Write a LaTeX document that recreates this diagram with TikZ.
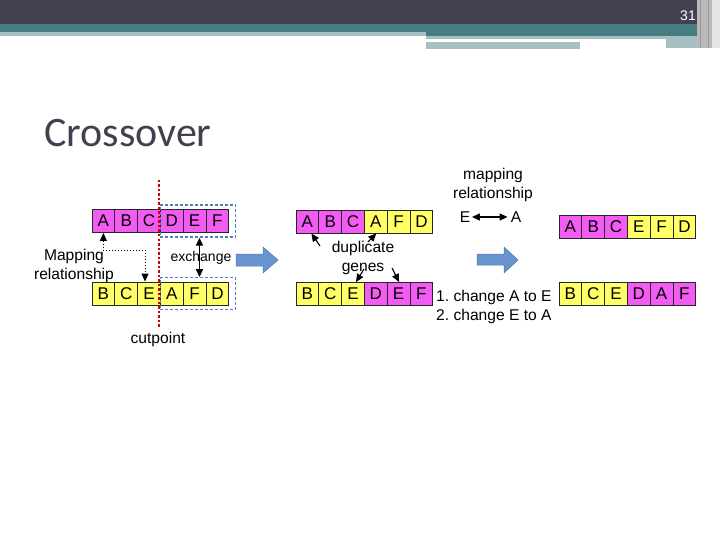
\documentclass[tikz,border=0pt]{standalone}
\usepackage{fontspec}
\setmainfont{Liberation Sans}
\newfontfamily\titlefont{Carlito}
\usetikzlibrary{arrows.meta}

\definecolor{pk}{RGB}{242,92,242}
\definecolor{yl}{RGB}{255,255,102}
\definecolor{hdark}{RGB}{65,65,82}
\definecolor{hteal}{RGB}{70,126,130}
\definecolor{hlight}{RGB}{166,192,194}
\definecolor{dashblue}{RGB}{84,122,190}
\definecolor{arrowblue}{RGB}{104,148,208}
\definecolor{titlegray}{RGB}{64,64,80}

\begin{document}
\frenchspacing
\begin{tikzpicture}[x=1pt,y=-1pt,
  gene/.style={draw=black!85, line width=0.9pt, minimum width=22.8pt,
    minimum height=23pt, inner sep=0pt, font=\fontsize{17}{19}\selectfont},
  lbl/.style={font=\fontsize{15.6}{19}\selectfont, inner sep=0pt, align=center},
  ptr/.style={-{Triangle[length=8pt,width=7pt]}, line width=1.1pt},
  twoway/.style={{Triangle[length=8pt,width=7pt]}-{Triangle[length=8pt,width=7pt]}, line width=1.2pt},
  dashbox/.style={draw=dashblue, line width=1.3pt, dash pattern=on 3pt off 2pt},
  cutline/.style={draw=red!80!black, line width=1.3pt, dash pattern=on 2.5pt off 2pt},
  bigarrow/.style={fill=arrowblue, draw=arrowblue!80!black, line width=0.5pt}]
  \useasboundingbox (0,0) rectangle (720,540);

  % header bands
  \fill[hdark] (0,0) rectangle (720,24);
  \fill[hteal] (0,24) rectangle (697,32);
  \fill[hlight] (0,32) rectangle (426,36);
  \fill[hteal] (426,32) rectangle (697,36);
  \fill[hlight] (426,36) rectangle (697,39);
  \fill[hlight] (426,42) rectangle (580,49);
  \fill[hlight] (666,39) rectangle (697,48);
  \fill[gray!55] (697,0) rectangle (712,48);
  \fill[gray!20] (712,0) rectangle (720,48);
  \draw[gray!80, line width=1pt] (700,0) -- (700,48) (708,0) -- (708,48);
  \node[text=white, font=\fontsize{14}{16}\selectfont] (pagenum) at (688,16) {31};

  % title
  \node[anchor=base west, inner sep=0pt, text=titlegray,
    font=\titlefont\fontsize{42}{46}\selectfont] (title) at (44,147) {Crossover};

  % left: parents and cutpoint
  \foreach \i/\g in {0/A,1/B,2/C,3/D,4/E,5/F}
    \node[gene, fill=pk] (lt\i) at (103.4+22.8*\i,221) {\g};
  \foreach \i/\g in {0/B,1/C,2/E,3/A,4/F,5/D}
    \node[gene, fill=yl] (lb\i) at (103.4+22.8*\i,293.5) {\g};
  \node[dashbox, minimum width=75.5pt, minimum height=32pt] (xa) at (198,221) {};
  \node[dashbox, minimum width=75.5pt, minimum height=31.5pt] (xb) at (198,293.5) {};
  \coordinate (cuttop) at (159,180);
  \coordinate (cutbot) at (159,328);
  \draw[cutline] (cuttop) -- (cutbot);
  \node[lbl] (cut) at (158,339) {cutpoint};
  \node[lbl] (maplbl) at (74,266) {Mapping\\relationship};
  \node[lbl, font=\fontsize{14}{16}\selectfont] (exch) at (201,258) {exchange};
  \draw[twoway] ([xshift=1.5]xa.south) -- ([xshift=1.5]xb.north);
  \draw[twoway, line width=0.9pt, dash pattern=on 1.2pt off 1.8pt]
    (lt0.south) -- ++(0,17) -| ([xshift=-4]lb2.north);

  \fill[bigarrow] (236,254) -- (263,254) -- (263,247) -- (278,260)
    -- (263,273) -- (263,266) -- (236,266) -- cycle;

  % middle: children with duplicates
  \foreach \i/\g/\c in {0/A/pk,1/B/pk,2/C/pk,3/A/yl,4/F/yl,5/D/yl}
    \node[gene, fill=\c] (mt\i) at (307.4+22.8*\i,221.5) {\g};
  \foreach \i/\g/\c in {0/B/yl,1/C/yl,2/E/yl,3/D/pk,4/E/pk,5/F/pk}
    \node[gene, fill=\c] (mb\i) at (307.4+22.8*\i,294) {\g};
  \node[lbl] (dup) at (363,257.5) {duplicate\\genes};
  \coordinate (d1) at (320,246);
  \coordinate (d2) at (368,242);
  \coordinate (d3) at (364,269);
  \coordinate (d4) at (392,268);
  \draw[ptr] (d1) -- ([xshift=4]mt0.south);
  \draw[ptr] (d2) -- ([xshift=0.5]mt3.south);
  \draw[ptr] (d3) -- ([xshift=3]mb2.north);
  \draw[ptr] (d4) -- ([xshift=0.5]mb4.north);

  \node[lbl] (maprel) at (493,184.5) {mapping\\relationship};
  \node[lbl] (me) at (465,217) {E};
  \node[lbl] (ma) at (516,217) {A};
  \draw[twoway] ([xshift=1.5]me.east) -- ([xshift=-3]ma.west);
  \node[lbl, align=left, anchor=west] (steps) at (436,306.5)
    {1. change A to E\\2. change E to A};

  \fill[bigarrow] (477,254) -- (504,254) -- (504,247) -- (518,260)
    -- (504,273) -- (504,265) -- (477,265) -- cycle;

  % right: offspring
  \foreach \i/\g/\c in {0/A/pk,1/B/pk,2/C/pk,3/E/yl,4/F/yl,5/D/yl}
    \node[gene, fill=\c] (rt\i) at (570.4+22.8*\i,226.5) {\g};
  \foreach \i/\g/\c in {0/B/yl,1/C/yl,2/E/yl,3/D/pk,4/A/pk,5/F/pk}
    \node[gene, fill=\c] (rb\i) at (570.4+22.8*\i,294) {\g};
\end{tikzpicture}
\end{document}
